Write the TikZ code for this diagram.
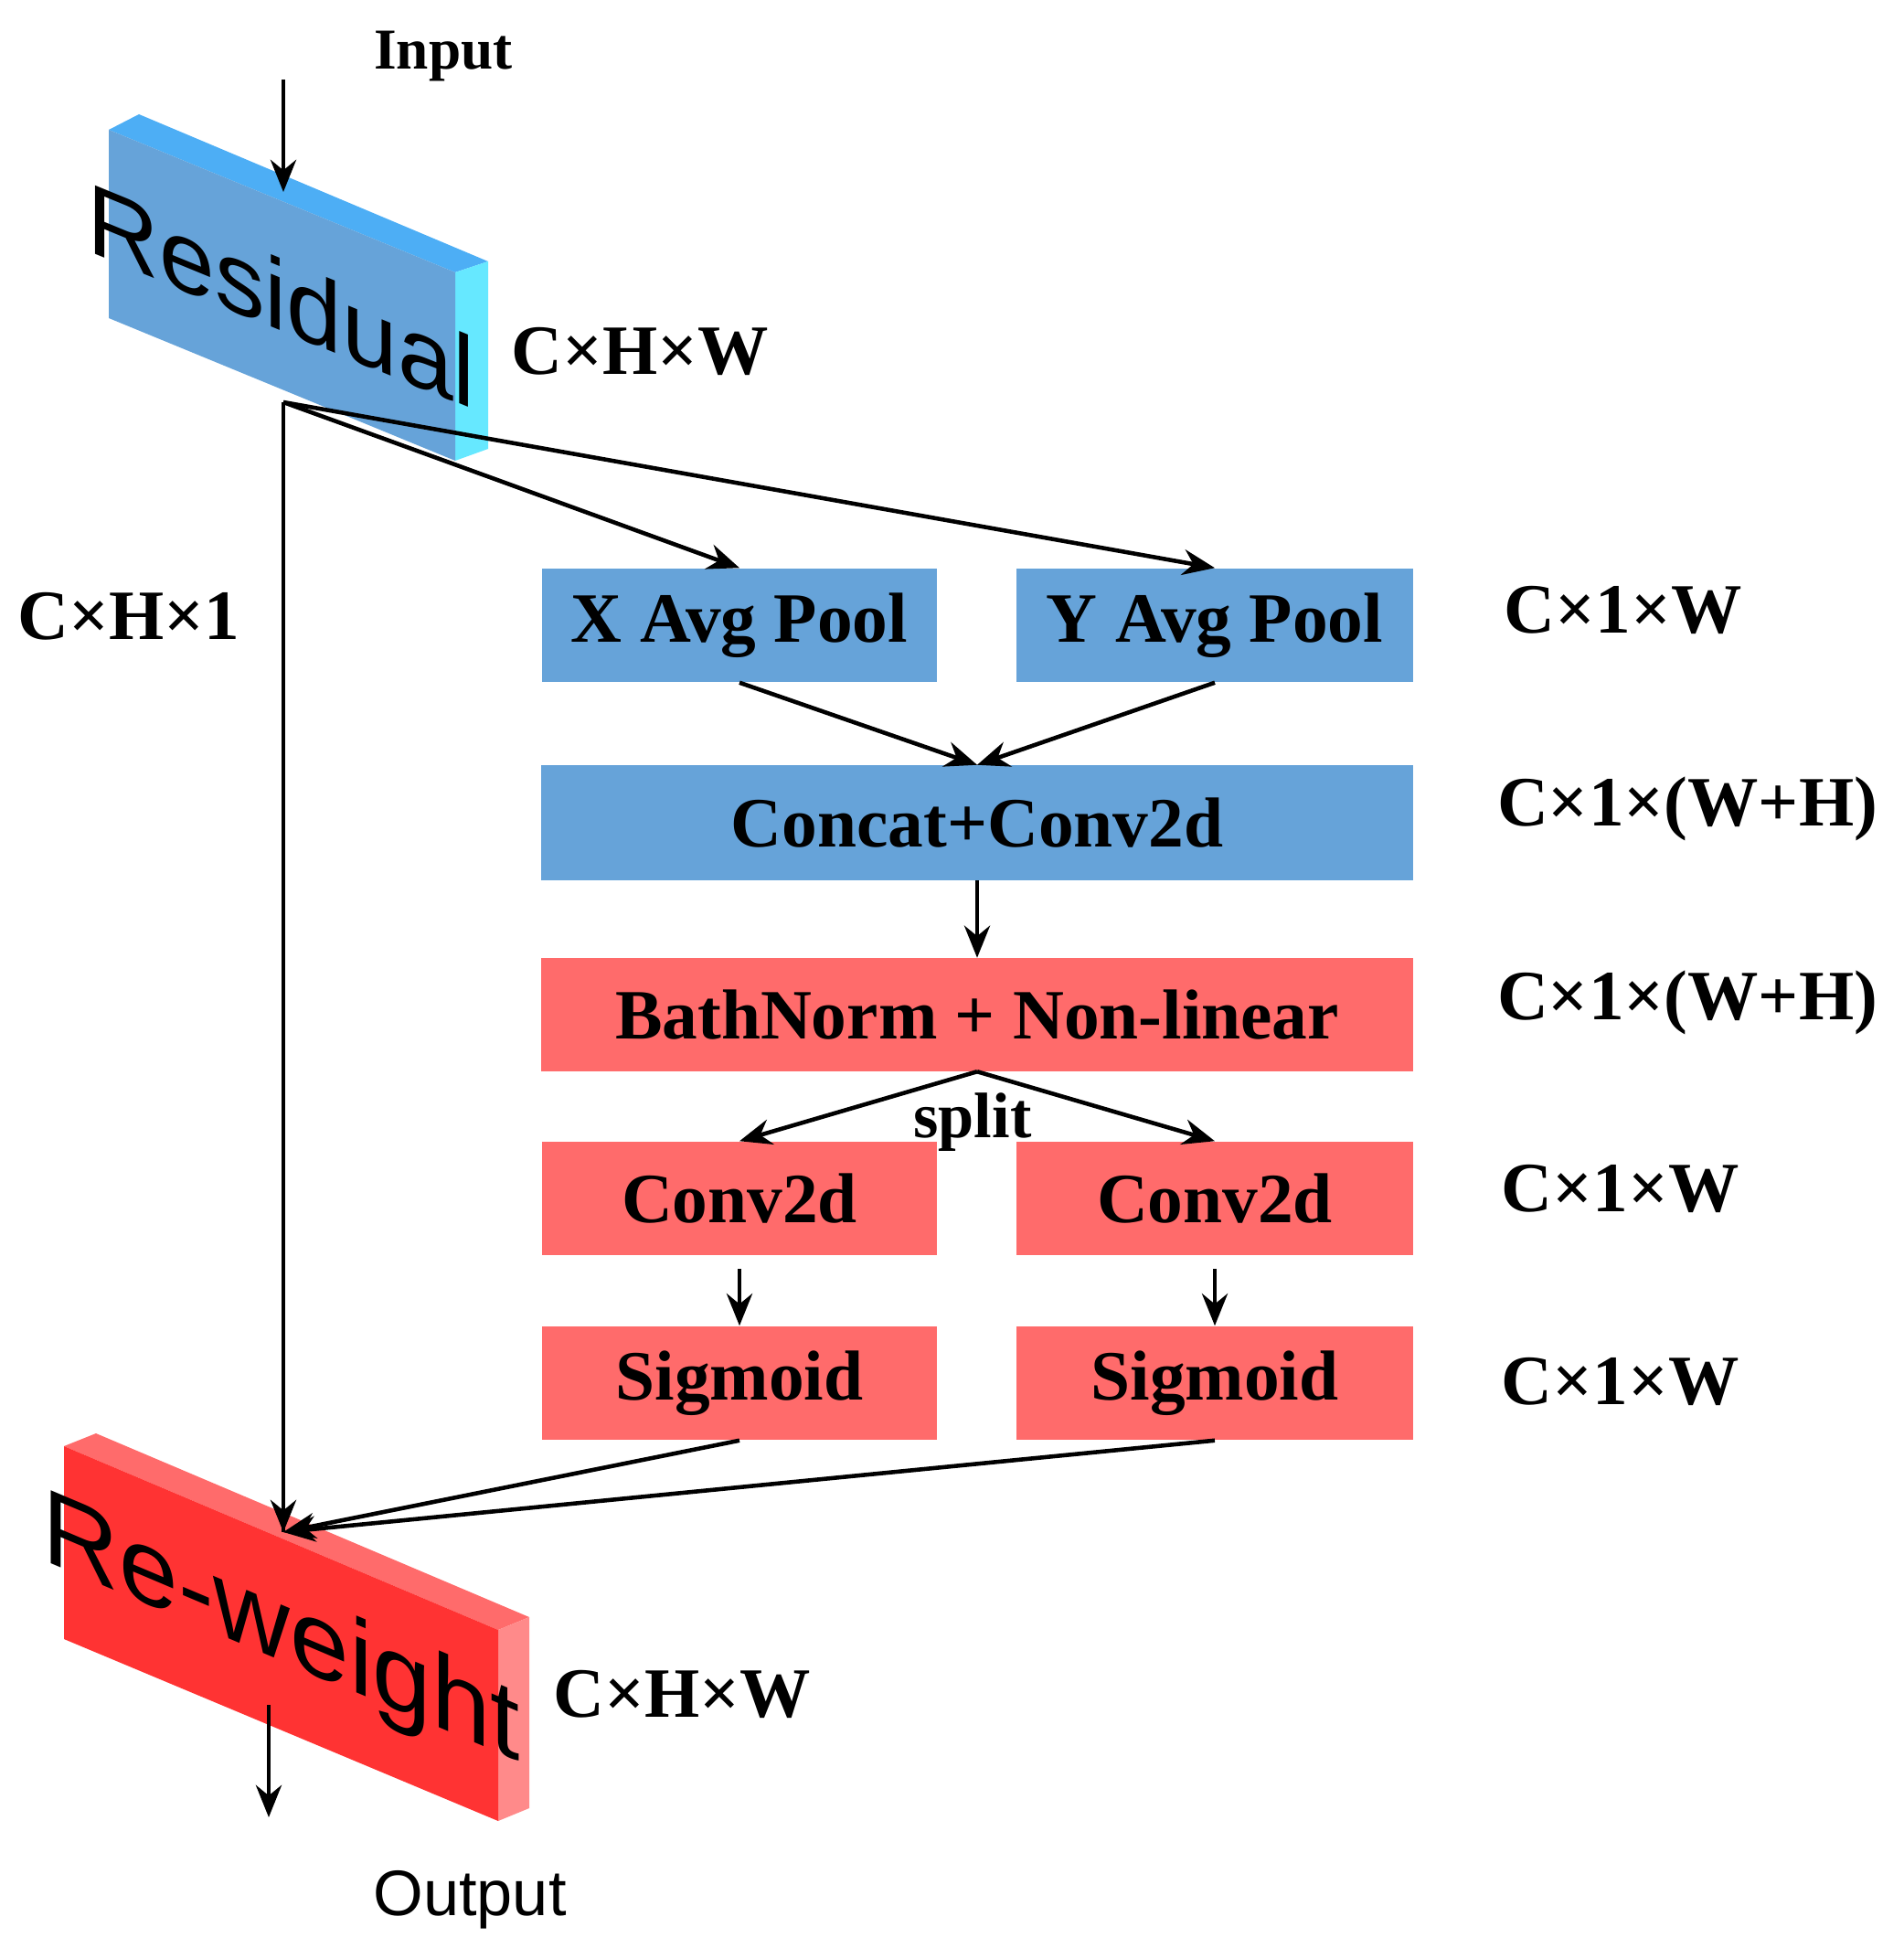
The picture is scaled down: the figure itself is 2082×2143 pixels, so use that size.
\documentclass[tikz,border=0pt]{standalone}
\usepackage{fontspec}
\setmainfont{Liberation Serif}
\newfontfamily\sansf{Liberation Sans}
\usetikzlibrary{arrows.meta}
\definecolor{bfront}{HTML}{66A3D9}
\definecolor{btop}{HTML}{4DAEF5}
\definecolor{bside}{HTML}{66E8FF}
\definecolor{rbox}{HTML}{FF6B6B}
\definecolor{rfront}{HTML}{FF3333}
\definecolor{rside}{HTML}{FF8A8A}
\begin{document}
\begin{tikzpicture}[x=0.01cm,y=-0.01cm,
  box/.style={draw=none,minimum height=1.24cm,font=\bfseries\fontsize{22}{24}\selectfont},
  bb/.style={box,fill=bfront},
  rb/.style={box,fill=rbox},
  lab/.style={font=\bfseries\fontsize{22}{24}\selectfont},
  ar/.style={line width=1.3pt,-{Stealth[length=10pt,width=8pt]}},
  ln/.style={line width=1.3pt}]
\useasboundingbox (0,0) rectangle (2082,2143);
% Residual block
\fill[btop] (119,142) -- (152,125) -- (534,286) -- (498,298) -- cycle;
\fill[bside] (498,298) -- (534,286) -- (534,491) -- (498,504) -- cycle;
\fill[bfront] (119,142) -- (498,298) -- (498,504) -- (119,348) -- cycle;
\node[inner sep=0,font=\sansf\fontsize{31}{31}\selectfont,transform shape,
  cm={1,-0.41,0,1,(0,0)}] (res) at (308,323) {Residual};
% Re-weight block
\fill[rbox] (70,1582) -- (105,1568) -- (579,1769) -- (545,1783) -- cycle;
\fill[rside] (545,1783) -- (579,1769) -- (579,1978) -- (545,1992) -- cycle;
\fill[rfront] (70,1582) -- (545,1783) -- (545,1992) -- (70,1793) -- cycle;
\node[inner sep=0,font=\sansf\fontsize{33}{33}\selectfont,transform shape,
  cm={1,-0.423,0,1,(0,0)}] (rw) at (308,1787) {Re-weight};
% boxes
\node[bb,minimum width=4.32cm] (xp) at (809,684) {X Avg Pool};
\node[bb,minimum width=4.33cm] (yp) at (1329,684) {Y Avg Pool};
\node[bb,minimum width=9.53cm,minimum height=1.25cm] (cc) at (1069,900) {Concat+Conv2d};
\node[rb,minimum width=9.53cm,minimum height=1.23cm] (bn) at (1069,1110) {BathNorm + Non-linear};
\node[rb,minimum width=4.32cm] (c1) at (809,1311) {Conv2d};
\node[rb,minimum width=4.33cm] (c2) at (1329,1311) {Conv2d};
\node[rb,minimum width=4.32cm] (s1) at (809,1513) {Sigmoid};
\node[rb,minimum width=4.33cm] (s2) at (1329,1513) {Sigmoid};
% labels
\node[lab,font=\bfseries\fontsize{18}{20}\selectfont] (inp) at (485,62) {Input};
\node[font=\sansf\fontsize{20}{22}\selectfont] (out) at (514,2078) {Output};
\node[lab] (l0) at (700,384) {C×H×W};
\node[lab] (l1) at (141,674) {C×H×1};
\node[lab] (l2) at (1776,667) {C×1×W};
\node[lab] (l3) at (1846,885) {C×1×(W+H)};
\node[lab] (l4) at (1846,1097) {C×1×(W+H)};
\node[lab] (l5) at (1773,1300) {C×1×W};
\node[lab] (l6) at (1773,1511) {C×1×W};
\node[lab] (l7) at (746,1853) {C×H×W};
\node[lab,font=\bfseries\fontsize{20}{22}\selectfont] (sp) at (1064,1228) {split};
% connectors
\coordinate (i0) at (310,87);
\coordinate (i1) at (310,210);
\coordinate (j) at (310,440);
\coordinate (k) at (310,1676);
\coordinate (o0) at (294,1865);
\coordinate (o1) at (294,1988);
\draw[ar] (i0) -- (i1);
\draw[ln] (j) -- (k);
\draw[ar] (j) -- (xp.north);
\draw[ar] (j) -- (yp.north);
\draw[ar] (xp.south) -- (cc.north);
\draw[ar] (yp.south) -- (cc.north);
\draw[ar] (cc.south) -- (bn.north);
\draw[ar] (bn.south) -- (c1.north);
\draw[ar] (bn.south) -- (c2.north);
\draw[ar] ([yshift=-4]c1.south) -- (s1.north);
\draw[ar] ([yshift=-4]c2.south) -- (s2.north);
\draw[ar] (s1.south) -- (k);
\draw[ar] (s2.south) -- (k);
\draw[ar] (j) -- (k);
\draw[ar] (o0) -- (o1);
\end{tikzpicture}
\end{document}
